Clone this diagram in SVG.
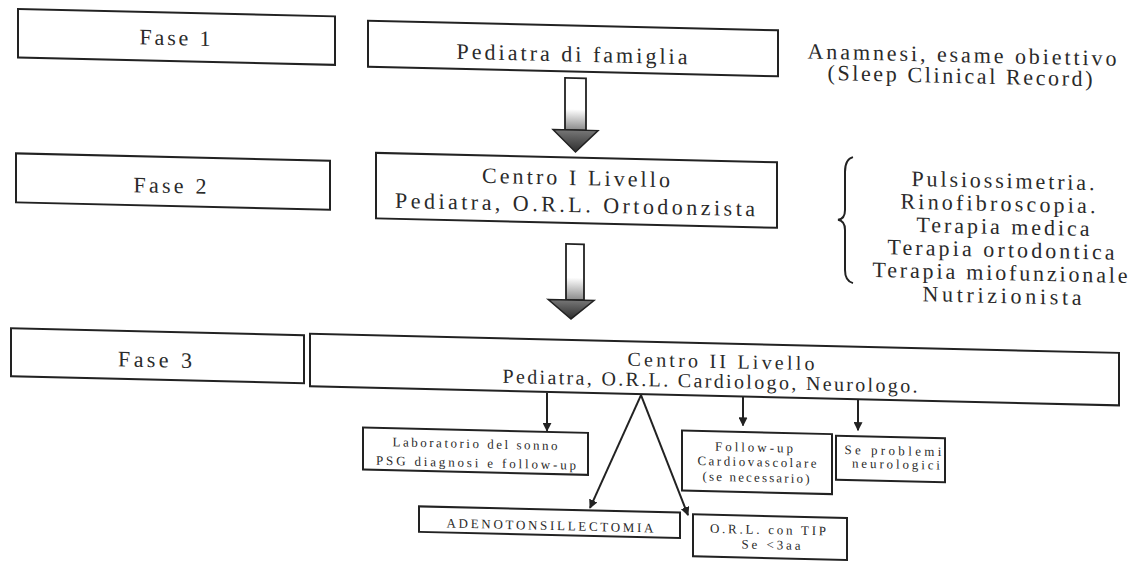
<svg xmlns="http://www.w3.org/2000/svg" width="1138" height="561" viewBox="0 0 1138 561">
<style>
.box{fill:#fff;stroke:#222;stroke-width:2}
.t{font-family:"Liberation Serif","Times New Roman",serif;fill:#2a2a2a;text-anchor:middle}
.big{font-size:22px}
.mid{font-size:20px}
.sm{font-size:13px}
.con{stroke:#222;stroke-width:2;fill:none}
</style>
<defs>
<marker id="ah" viewBox="0 0 10 10" refX="9" refY="5" markerWidth="4.5" markerHeight="4.5" orient="auto"><path d="M0,0 L10,5 L0,10 z" fill="#222"/></marker>
<linearGradient id="shaft" x1="0" y1="0" x2="0" y2="1">
<stop offset="0" stop-color="#fff"/><stop offset="0.6" stop-color="#fff"/><stop offset="1" stop-color="#8a8a8a"/>
</linearGradient>
<linearGradient id="head" x1="0" y1="0" x2="0" y2="1">
<stop offset="0" stop-color="#777"/><stop offset="1" stop-color="#2e2e2e"/>
</linearGradient>
</defs>
<rect width="1138" height="561" fill="#fff"/>
<g transform="skewY(1.35)">
<g id="fase1"><rect class="box" x="18" y="8.5" width="317" height="48.5"/><text class="t big" x="175" y="41" textLength="71">Fase 1</text></g>
<g id="pediatra-famiglia"><rect class="box" x="368" y="12" width="410" height="46"/><text class="t big" x="572" y="48" textLength="231">Pediatra di famiglia</text></g>
<g id="note-fase1"><text class="t big" x="962" y="39.5" textLength="309">Anamnesi, esame obiettivo</text><text class="t big" x="960" y="60.5" textLength="265">(Sleep Clinical Record)</text></g>
<g id="fase2"><rect class="box" x="16" y="153" width="314" height="49"/><text class="t big" x="170" y="189" textLength="73">Fase 2</text></g>
<g id="centro1"><rect class="box" x="376" y="144" width="401" height="65.5"/><text class="t big" x="576" y="171.5" textLength="188">Centro I Livello</text><text class="t big" x="575" y="198.5" textLength="360">Pediatra, O.R.L. Ortodonzista</text></g>
<g id="note-fase2">
<path class="con" d="M853,137 Q845,139 845,152 L845,190 Q845,199 838,200 Q845,201 845,210 L845,250 Q845,261 853,263" stroke-width="1.6"/>
<text class="t big" x="1003" y="164.4" textLength="183">Pulsiossimetria.</text>
<text class="t big" x="998" y="187.4" textLength="195">Rinofibroscopia.</text>
<text class="t big" x="1003" y="210.4" textLength="173">Terapia medica</text>
<text class="t big" x="1001" y="233.4" textLength="227">Terapia ortodontica</text>
<text class="t big" x="1000" y="256.4" textLength="255">Terapia miofunzionale</text>
<text class="t big" x="1002" y="279.4" textLength="159">Nutrizionista</text>
</g>
<g id="fase3"><rect class="box" x="11" y="328" width="293" height="48"/><text class="t big" x="155" y="363.5" textLength="74">Fase 3</text></g>
<g id="centro2"><rect class="box" x="310" y="326.5" width="809" height="52.5"/><text class="t mid" x="721" y="351" textLength="187">Centro II Livello</text><text class="t mid" x="710" y="371" textLength="415">Pediatra, O.R.L.  Cardiologo, Neurologo.</text></g>
<g id="laboratorio"><rect class="box" x="363" y="419" width="225" height="42"/><text class="t sm" x="475" y="437" textLength="165">Laboratorio del sonno</text><text class="t sm" x="476" y="456" textLength="200">PSG  diagnosi e follow-up</text></g>
<g id="followup"><rect class="box" x="682" y="414.5" width="150" height="60"/><text class="t sm" x="754" y="434" textLength="78">Follow-up</text><text class="t sm" x="757" y="448.5" textLength="119">Cardiovascolare</text><text class="t sm" x="756" y="464" textLength="107">(se necessario)</text></g>
<g id="neuro"><rect class="box" x="836" y="416" width="109" height="44"/><text class="t sm" x="893" y="434" textLength="97">Se problemi</text><text class="t sm" x="896" y="447.5" textLength="88">neurologici</text></g>
<g id="adeno"><rect class="box" x="419" y="496.5" width="261" height="25.5"/><text class="t sm" x="550" y="517" textLength="207">ADENOTONSILLECTOMIA</text></g>
<g id="orl-tip"><rect class="box" x="693" y="498" width="154" height="42"/><text class="t sm" x="768" y="516" textLength="116">O.R.L.   con TIP</text><text class="t sm" x="771" y="531" textLength="59">Se &lt;3aa</text></g>
<g id="connectors">
<g id="big-arrow-1"><rect x="565" y="64.5" width="21" height="52" fill="url(#shaft)" stroke="#222" stroke-width="1.8"/><path d="M553,116.5 L598,116.5 L575.5,138.5 z" fill="url(#head)" stroke="#222" stroke-width="1.5"/></g>
<g id="big-arrow-2"><rect x="566" y="230.5" width="18" height="56" fill="url(#shaft)" stroke="#222" stroke-width="1.8"/><path d="M548,286.5 L594,286.5 L571,305.5 z" fill="url(#head)" stroke="#222" stroke-width="1.5"/></g>
<line class="con" x1="547" y1="380" x2="547" y2="418" marker-end="url(#ah)"/>
<line class="con" x1="743" y1="379" x2="743" y2="408" marker-end="url(#ah)"/>
<line class="con" x1="858" y1="379" x2="858" y2="410" marker-end="url(#ah)"/>
<line class="con" x1="641" y1="380" x2="590" y2="494" marker-end="url(#ah)"/>
<line class="con" x1="641" y1="380" x2="688" y2="499" marker-end="url(#ah)"/>
</g>
</g>
</svg>
